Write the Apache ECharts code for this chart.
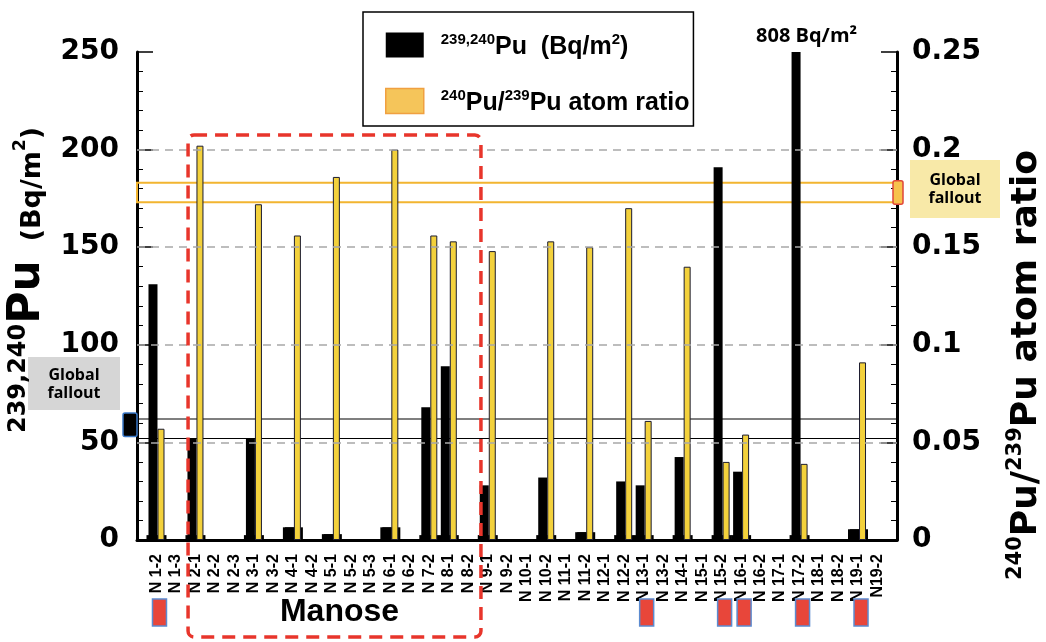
<!DOCTYPE html>
<html>
<head>
<meta charset="utf-8">
<script src="https://cdn.jsdelivr.net/npm/echarts@6/dist/echarts.min.js"></script>
<style>
    html, body { margin: 0; padding: 0; background: #fff; }
    #chart { width: 1046px; height: 642px; }
</style>
</head>
<body>
<div id="chart"></div>
<script>
    // samples along the x axis
    var categories = ['N 1-2', 'N 1-3', 'N 2-1', 'N 2-2', 'N 2-3', 'N 3-1', 'N 3-2', 'N 4-1', 'N 4-2',
        'N 5-1', 'N 5-2', 'N 5-3', 'N 6-1', 'N 6-2', 'N 7-2', 'N 8-1', 'N 8-2', 'N 9-1', 'N 9-2',
        'N 10-1', 'N 10-2', 'N 11-1', 'N 11-2', 'N 12-1', 'N 12-2', 'N 13-1', 'N 13-2', 'N 14-1',
        'N 15-1', 'N 15-2', 'N 16-1', 'N 16-2', 'N 17-1', 'N 17-2', 'N 18-1', 'N 18-2', 'N 19-1', 'N19-2'];

    // 239,240Pu inventory (Bq/m2), null = no data
    var puValues = [131, null, 52, null, null, 52, null, 6.5, null,
        3, null, null, 6.5, null, 68, 89, null, 28, null,
        null, 32, null, 4, null, 30, 28, null, 42.5,
        null, 191, 35, null, null, 808, null, null, 5.5, null];

    // 240Pu/239Pu atom ratio
    var ratioValues = [0.057, null, 0.202, null, null, 0.172, null, 0.156, null,
        0.186, null, null, 0.200, null, 0.156, 0.153, null, 0.148, null,
        null, 0.153, null, 0.150, null, 0.170, 0.061, null, 0.140,
        null, 0.040, 0.054, null, null, 0.039, null, null, 0.091, null];

    // small wide black base under each measured pair
    var baseValues = [2.5, null, 2.5, null, null, 2.5, null, 6.5, null,
        3, null, null, 6.5, null, 2.5, 2.5, null, 2.5, null,
        null, 2.5, null, 4, null, 2.5, 2.5, null, 2.5,
        null, 2.5, 2.5, null, null, 2.5, null, null, 5.5, null];

    var leftTicks = [0, 50, 100, 150, 200, 250];
    var rightTicks = [0, 0.05, 0.1, 0.15, 0.2, 0.25];
    var gridValues = [50, 100, 150, 200];
    var puFallout = [52, 62];
    var ratioFallout = [0.173, 0.183];
    var markedSamples = ['N 1-2', 'N 13-1', 'N 15-2', 'N 16-1', 'N 17-2', 'N 19-1'];
    var manoseSpan = [1.62, 16.65];

    // one empty slot at each end so the samples sit inside the frame
    function padded(arr) {
        return [null].concat(arr, [null]);
    }
    var axisCats = [''].concat(categories, ['']);

    var axisFont = 'DejaVu Sans';
    var chart = echarts.init(document.getElementById('chart'));

    chart.setOption({
        animation: false,
        grid: {left: 137, right: 149, top: 52, bottom: 102, outerBoundsMode: 'none', containLabel: false},
        legend: {
            orient: 'vertical',
            left: 363,
            top: 12,
            padding: [18, 4, 10, 22],
            itemGap: 26,
            itemWidth: 38,
            itemHeight: 25,
            borderColor: '#000',
            borderWidth: 1.5,
            backgroundColor: '#fff',
            data: [
                {name: 'pu', icon: 'rect', itemStyle: {color: '#000', borderWidth: 0}},
                {name: 'ratio', icon: 'rect', itemStyle: {color: '#f5c55a', borderColor: '#f0a040', borderWidth: 1.5}}
            ],
            formatter: function (name) {
                if (name === 'pu') return '{s|239,240}{m|Pu  (Bq/m}{s|2}{m|)}';
                return '{s|240}{m|Pu/}{s|239}{m|Pu atom ratio}';
            },
            textStyle: {
                padding: [0, 0, 0, 12],
                rich: {
                    m: {fontFamily: 'Liberation Sans', fontWeight: 'bold', fontSize: 25, color: '#000', lineHeight: 30, verticalAlign: 'bottom'},
                    s: {fontFamily: 'Liberation Sans', fontWeight: 'bold', fontSize: 15, color: '#000', lineHeight: 30, verticalAlign: 'top', padding: [2, 0, 0, 0]}
                }
            }
        },
        xAxis: [
            {
                type: 'category',
                data: axisCats,
                boundaryGap: false,
                axisLine: {lineStyle: {color: '#000', width: 3}},
                axisTick: {show: false},
                axisLabel: {
                    interval: 0,
                    rotate: 90,
                    margin: 14,
                    color: '#000',
                    fontFamily: 'Liberation Sans',
                    fontWeight: 'bold',
                    fontSize: 16
                }
            },
            {
                type: 'category',
                data: axisCats,
                boundaryGap: false,
                show: false
            }
        ],
        yAxis: [
            {
                type: 'value',
                min: leftTicks[0],
                max: leftTicks[leftTicks.length - 1],
                interval: leftTicks[1] - leftTicks[0],
                splitLine: {show: false},
                axisLine: {show: true, onZero: false, lineStyle: {color: '#000', width: 3}},
                axisTick: {show: true, inside: true, length: 16, lineStyle: {color: '#000', width: 1.5}},
                minorTick: {show: true, splitNumber: 5, length: 6, lineStyle: {color: '#000', width: 1}},
                axisLabel: {margin: 18, color: '#000', fontFamily: axisFont, fontWeight: 'bold', fontSize: 28},
                name: '{s|239,240}{a|Pu}{b|  (Bq/m}{t|2}{b|)}',
                nameLocation: 'middle',
                nameRotate: 90,
                nameGap: 80,
                nameTextStyle: {
                    padding: [0, 0, 0, 32],
                    rich: {
                        s: {fontFamily: axisFont, fontWeight: 'bold', fontSize: 24, color: '#000', lineHeight: 46, verticalAlign: 'top', padding: [3, 0, 0, 0]},
                        a: {fontFamily: axisFont, fontWeight: 'bold', fontSize: 44, color: '#000', lineHeight: 46, verticalAlign: 'bottom'},
                        b: {fontFamily: axisFont, fontWeight: 'bold', fontSize: 27, color: '#000', lineHeight: 46, verticalAlign: 'bottom', padding: [0, 0, 3, 0]},
                        t: {fontFamily: axisFont, fontWeight: 'bold', fontSize: 17, color: '#000', lineHeight: 46, verticalAlign: 'top', padding: [8, 0, 0, 0]}
                    }
                }
            },
            {
                type: 'value',
                position: 'right',
                min: rightTicks[0],
                max: rightTicks[rightTicks.length - 1],
                interval: rightTicks[1] - rightTicks[0],
                splitLine: {show: false},
                axisLine: {show: true, onZero: false, lineStyle: {color: '#000', width: 3}},
                axisTick: {show: true, inside: true, length: 16, lineStyle: {color: '#000', width: 1.5}},
                minorTick: {show: true, splitNumber: 5, length: 6, lineStyle: {color: '#000', width: 1}},
                axisLabel: {
                    margin: 15, color: '#000', fontFamily: axisFont, fontWeight: 'bold', fontSize: 28,
                    formatter: function (v) {
                        return String(+v.toFixed(2));
                    }
                },
                name: '{s|240}{a|Pu/}{s|239}{a|Pu atom ratio}',
                nameLocation: 'middle',
                nameRotate: 90,
                nameGap: 106,
                nameTextStyle: {
                    padding: [0, 138, 0, 0],
                    rich: {
                        s: {fontFamily: axisFont, fontWeight: 'bold', fontSize: 21, color: '#000', lineHeight: 42, verticalAlign: 'top', padding: [2, 0, 0, 0]},
                        a: {fontFamily: axisFont, fontWeight: 'bold', fontSize: 36, color: '#000', lineHeight: 42, verticalAlign: 'bottom'}
                    }
                }
            }
        ],
        series: [
            {
                name: 'base',
                type: 'bar',
                xAxisIndex: 1,
                barWidth: 20,
                itemStyle: {color: '#000'},
                data: padded(baseValues),
                z: 1
            },
            {
                name: 'pu',
                type: 'bar',
                barWidth: 9,
                barGap: '0%',
                itemStyle: {color: '#000'},
                data: padded(puValues),
                markLine: {
                    silent: true,
                    symbol: 'none',
                    label: {show: false},
                    lineStyle: {color: '#a8a8a8', type: [8, 6], width: 1.5},
                    data: gridValues.map(function (v) { return {yAxis: v}; })
                },
                markArea: {
                    silent: true,
                    itemStyle: {color: 'rgba(0,0,0,0)', borderColor: '#000', borderWidth: 1.2},
                    data: [[{xAxis: 0, yAxis: puFallout[0]}, {xAxis: axisCats.length - 1, yAxis: puFallout[1]}]]
                }
            },
            {
                name: 'ratio',
                type: 'bar',
                yAxisIndex: 1,
                barWidth: 7,
                barGap: '0%',
                itemStyle: {color: '#f3d13c', borderColor: '#1c1c30', borderWidth: 1},
                data: padded(ratioValues),
                markArea: {
                    silent: true,
                    itemStyle: {color: 'rgba(0,0,0,0)', borderColor: '#f2b530', borderWidth: 2},
                    data: [[{xAxis: 0, yAxis: ratioFallout[0]}, {xAxis: axisCats.length - 1, yAxis: ratioFallout[1]}]]
                }
            }
        ]
    });

    // pixel x of a (possibly fractional) sample position
    function xPix(t) {
        var a = Math.floor(t), f = t - a;
        var p0 = chart.convertToPixel({xAxisIndex: 0}, a + 1);
        var p1 = chart.convertToPixel({xAxisIndex: 0}, a + 2);
        return p0 + (p1 - p0) * f;
    }
    function yPix(v, yIdx) {
        return chart.convertToPixel({yAxisIndex: yIdx || 0}, v);
    }

    var graphics = [];
    var manL = xPix(manoseSpan[0]);
    var manR = xPix(manoseSpan[1]);
    var manT = yPix(207.5);
    graphics.push({
        type: 'rect', z: 100,
        shape: {x: manL, y: manT, width: manR - manL, height: 637 - manT, r: 6},
        style: {fill: 'none', stroke: '#e8352b', lineWidth: 3.5, lineDash: [13, 8]}
    });
    graphics.push({
        type: 'text', z: 100, x: (manL + manR) / 2 + 5, y: 612,
        style: {text: 'Manose', font: 'bold 32px "Liberation Sans"', fill: '#000',
            align: 'center', verticalAlign: 'middle', textAlign: 'center', textVerticalAlign: 'middle'}
    });
    markedSamples.forEach(function (name) {
        var cx = xPix(categories.indexOf(name)) + 3;
        graphics.push({
            type: 'rect', z: 100,
            shape: {x: cx - 7, y: 599, width: 14, height: 27},
            style: {fill: '#e8463a', stroke: '#5b8bd0', lineWidth: 1.5}
        });
    });

    // global fallout markers on the axes
    var lTop = yPix(puFallout[1] + 3), lBot = yPix(puFallout[0] + 1);
    graphics.push({
        type: 'rect', z: 100,
        shape: {x: 123, y: lTop, width: 14, height: lBot - lTop, r: 2},
        style: {fill: '#000', stroke: '#3a78c8', lineWidth: 1.5}
    });
    graphics.push({
        type: 'rect', z: -1,
        shape: {x: 28, y: 357, width: 92, height: 53},
        style: {fill: '#d6d6d6'}
    });
    graphics.push({
        type: 'text', z: 101, x: 74, y: 384,
        style: {text: 'Global\nfallout', font: 'bold 16px "Open Sans"', lineHeight: 18, fill: '#000',
            align: 'center', verticalAlign: 'middle', textAlign: 'center', textVerticalAlign: 'middle'}
    });
    var rTop = yPix(ratioFallout[1] + 0.001, 1), rBot = yPix(ratioFallout[0] - 0.001, 1);
    graphics.push({
        type: 'rect', z: 100,
        shape: {x: 893, y: rTop, width: 10, height: rBot - rTop, r: 2},
        style: {fill: '#f7c24c', stroke: '#e0463a', lineWidth: 1.5}
    });
    graphics.push({
        type: 'rect', z: 100,
        shape: {x: 910, y: 160, width: 90, height: 58},
        style: {fill: '#f8e9a8'}
    });
    graphics.push({
        type: 'text', z: 101, x: 955, y: 189,
        style: {text: 'Global\nfallout', font: 'bold 16px "Open Sans"', lineHeight: 18, fill: '#000',
            align: 'center', verticalAlign: 'middle', textAlign: 'center', textVerticalAlign: 'middle'}
    });

    // value of the clipped bar
    var tall = puValues.indexOf(808);
    graphics.push({
        type: 'text', z: 101, x: xPix(tall) + 7, y: 36,
        style: {text: '808 Bq/m²', font: 'bold 20px "Open Sans"', fill: '#000',
            align: 'center', verticalAlign: 'middle', textAlign: 'center', textVerticalAlign: 'middle'}
    });

    chart.setOption({graphic: graphics});
</script>
</body>
</html>
